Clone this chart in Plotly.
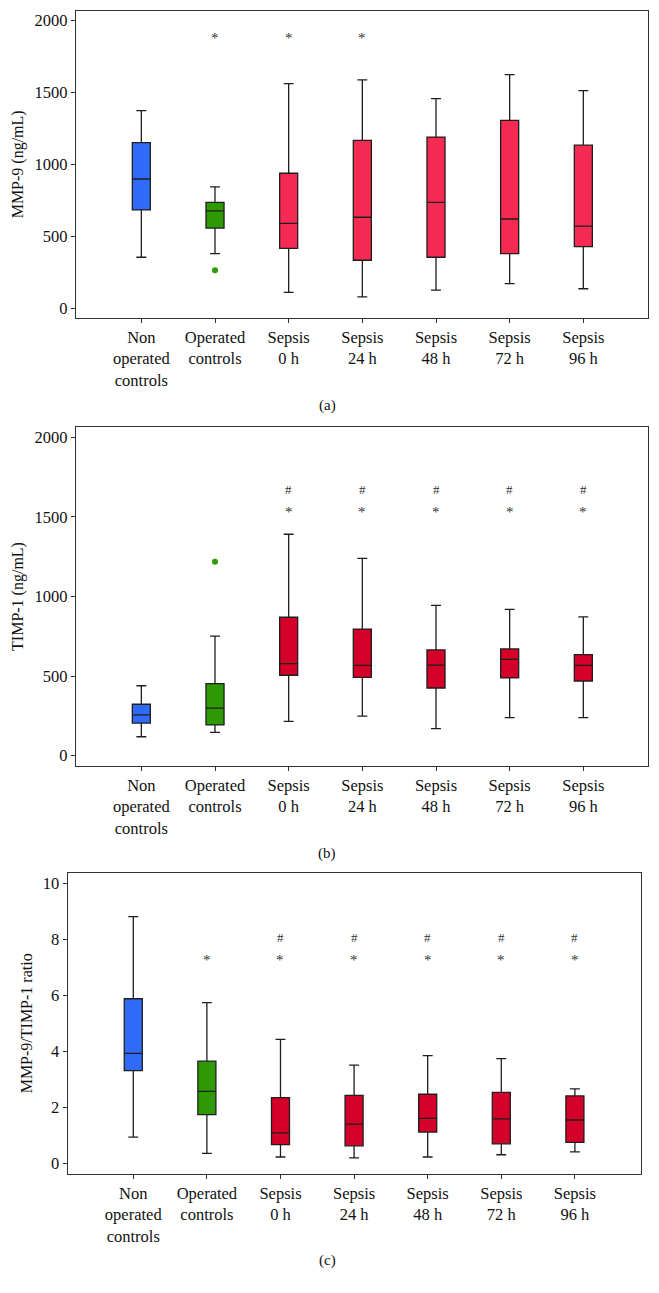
import plotly.graph_objects as go

categories = ["Non<br>operated<br>controls", "Operated<br>controls", "Sepsis<br>0 h",
              "Sepsis<br>24 h", "Sepsis<br>48 h", "Sepsis<br>72 h", "Sepsis<br>96 h"]

# Panel (a) MMP-9 (ng/mL)
mmp9_low = [355, 380, 111, 79, 127, 171, 136]
mmp9_q1 = [684, 558, 417, 334, 355, 380, 429]
mmp9_med = [899, 677, 591, 633, 737, 621, 572]
mmp9_q3 = [1152, 737, 939, 1168, 1191, 1307, 1134]
mmp9_high = [1374, 844, 1562, 1588, 1458, 1625, 1513]
mmp9_out_cat = ["Operated<br>controls"]
mmp9_out_val = [264]
mmp9_star = [None, 1882, 1882, 1882, None, None, None]
mmp9_hash = [None] * 7

# Panel (b) TIMP-1 (ng/mL)
timp1_low = [119, 147, 216, 249, 170, 239, 239]
timp1_q1 = [205, 193, 505, 492, 425, 488, 469]
timp1_med = [256, 298, 578, 567, 569, 605, 567]
timp1_q3 = [323, 452, 869, 795, 664, 670, 634]
timp1_high = [439, 751, 1390, 1239, 944, 919, 871]
timp1_out_cat = ["Operated<br>controls"]
timp1_out_val = [1218]
timp1_star = [None, None, 1528, 1528, 1528, 1528, 1528]
timp1_hash = [None, None, 1672, 1672, 1672, 1672, 1672]

# Panel (c) MMP-9/TIMP-1 ratio
ratio_low = [0.95, 0.37, 0.24, 0.21, 0.24, 0.32, 0.42]
ratio_q1 = [3.32, 1.75, 0.68, 0.64, 1.13, 0.71, 0.76]
ratio_med = [3.94, 2.58, 1.10, 1.41, 1.62, 1.60, 1.56]
ratio_q3 = [5.89, 3.66, 2.36, 2.44, 2.48, 2.55, 2.42]
ratio_high = [8.82, 5.75, 4.44, 3.52, 3.86, 3.75, 2.67]
ratio_star = [None, 7.27, 7.27, 7.27, 7.27, 7.27, 7.27]
ratio_hash = [None, None, 8.08, 8.08, 8.08, 8.08, 8.08]

BLUE = "#2F6BF7"
GREEN = "#2E9A03"
PINK = "#F42A52"
RED = "#D50029"
LINE = "#1E1E1E"
FONT = "Liberation Serif, Times New Roman, serif"

colors_a = [BLUE, GREEN, PINK, PINK, PINK, PINK, PINK]
colors_bc = [BLUE, GREEN, RED, RED, RED, RED, RED]

fig = go.Figure()
annotations = []

panels = [
    ("x", "y", mmp9_low, mmp9_q1, mmp9_med, mmp9_q3, mmp9_high, colors_a,
     mmp9_out_cat, mmp9_out_val, mmp9_star, mmp9_hash),
    ("x2", "y2", timp1_low, timp1_q1, timp1_med, timp1_q3, timp1_high, colors_bc,
     timp1_out_cat, timp1_out_val, timp1_star, timp1_hash),
    ("x3", "y3", ratio_low, ratio_q1, ratio_med, ratio_q3, ratio_high, colors_bc,
     [], [], ratio_star, ratio_hash),
]

for xa, ya, lo, q1, med, q3, hi, cols, ocat, oval, star, hsh in panels:
    for i, c in enumerate(categories):
        fig.add_trace(go.Box(
            x=[c], q1=[q1[i]], median=[med[i]], q3=[q3[i]],
            lowerfence=[lo[i]], upperfence=[hi[i]],
            fillcolor=cols[i], line=dict(color=LINE, width=1.3),
            width=0.245, whiskerwidth=0.55, boxpoints=False,
            showlegend=False, hoverinfo="skip", xaxis=xa, yaxis=ya))
    if ocat:
        fig.add_trace(go.Scatter(
            x=ocat, y=oval, mode="markers",
            marker=dict(color=GREEN, size=6), showlegend=False,
            hoverinfo="skip", xaxis=xa, yaxis=ya))
    for i, c in enumerate(categories):
        if star[i] is not None:
            annotations.append(dict(x=c, y=star[i], xref=xa, yref=ya, text="*",
                                    showarrow=False, yanchor="middle",
                                    font=dict(family=FONT, size=15, color="#333")))
        if hsh[i] is not None:
            annotations.append(dict(x=c, y=hsh[i], xref=xa, yref=ya, text="#",
                                    showarrow=False, yanchor="middle",
                                    font=dict(family=FONT, size=13, color="#333")))

# page body has an 8px margin; figure sits at (8, 8)
OFF = 8
W, H = 659 - OFF, 1293 - OFF

def xdom(l, r):
    return [(l - OFF) / W, (r - OFF) / W]

def ydom(t, b):
    return [1 - (b - OFF) / H, 1 - (t - OFF) / H]

axis_common = dict(showline=True, mirror=True, linecolor="#333", linewidth=1.3,
                   ticks="outside", ticklen=4, tickcolor="#333", showgrid=False,
                   zeroline=False, tickfont=dict(family=FONT, size=16.5, color="#111"))

def xaxis(dom, rng, anchor):
    d = dict(axis_common)
    d.update(domain=dom, range=rng, anchor=anchor, type="category",
             categoryorder="array", categoryarray=categories)
    return d

def yaxis(dom, rng, anchor, title, dtick):
    d = dict(axis_common)
    d.update(domain=dom, range=rng, anchor=anchor, dtick=dtick,
             title=dict(text=title, standoff=6, font=dict(family=FONT, size=16, color="#111")))
    return d

for txt, yc in [("(a)", 405), ("(b)", 853), ("(c)", 1260)]:
    annotations.append(dict(x=(327 - OFF) / W, y=1 - (yc - OFF) / H, xref="paper", yref="paper",
                            text=txt, showarrow=False, yanchor="middle",
                            font=dict(family=FONT, size=15, color="#111")))

fig.update_layout(
    width=W, height=H, autosize=False,
    margin=dict(l=0, r=0, t=0, b=0),
    paper_bgcolor="white", plot_bgcolor="white",
    boxmode="overlay",
    xaxis=xaxis(xdom(76, 648), [-0.887, 6.878], "y"),
    yaxis=yaxis(ydom(10.7, 318), [-67.5, 2069.5], "x", "MMP-9 (ng/mL)", 500),
    xaxis2=xaxis(xdom(76, 648), [-0.887, 6.878], "y2"),
    yaxis2=yaxis(ydom(427.3, 765.7), [-62.8, 2061.5], "x2", "TIMP-1 (ng/mL)", 500),
    xaxis3=xaxis(xdom(67.7, 640.7), [-0.891, 6.894], "y3"),
    yaxis3=yaxis(ydom(873, 1173.7), [-0.357, 10.38], "x3", "MMP-9/TIMP-1 ratio", 2),
    annotations=annotations,
)

fig.write_html("out.html")
